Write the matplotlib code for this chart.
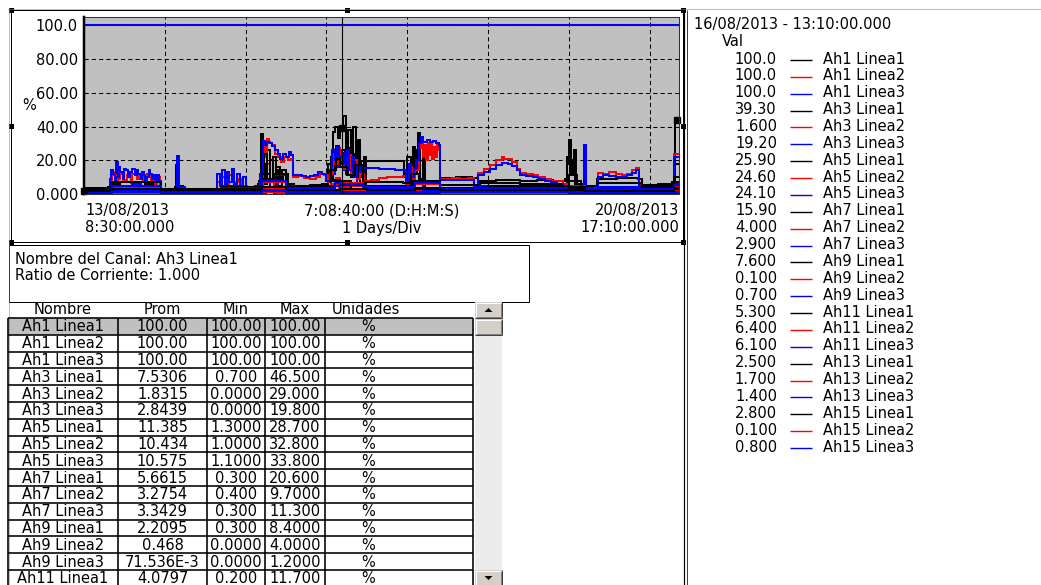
import matplotlib
matplotlib.use("Agg")
import matplotlib.pyplot as plt
from matplotlib.patches import Rectangle, Polygon

# ---------------------------------------------------------------- data
channels = [
    "Ah1 Linea1", "Ah1 Linea2", "Ah1 Linea3",
    "Ah3 Linea1", "Ah3 Linea2", "Ah3 Linea3",
    "Ah5 Linea1", "Ah5 Linea2", "Ah5 Linea3",
    "Ah7 Linea1", "Ah7 Linea2", "Ah7 Linea3",
    "Ah9 Linea1", "Ah9 Linea2", "Ah9 Linea3",
    "Ah11 Linea1", "Ah11 Linea2", "Ah11 Linea3",
    "Ah13 Linea1", "Ah13 Linea2", "Ah13 Linea3",
    "Ah15 Linea1", "Ah15 Linea2", "Ah15 Linea3",
]
cursor_values = [
    "100.0", "100.0", "100.0", "39.30", "1.600", "19.20",
    "25.90", "24.60", "24.10", "15.90", "4.000", "2.900",
    "7.600", "0.100", "0.700", "5.300", "6.400", "6.100",
    "2.500", "1.700", "1.400", "2.800", "0.100", "0.800",
]

table_names = channels[:16]
table_prom = ["100.00", "100.00", "100.00", "7.5306", "1.8315", "2.8439",
              "11.385", "10.434", "10.575", "5.6615", "3.2754", "3.3429",
              "2.2095", "0.468", "71.536E-3", "4.0797"]
table_min = ["100.00", "100.00", "100.00", "0.700", "0.0000", "0.0000",
             "1.3000", "1.0000", "1.1000", "0.300", "0.400", "0.300",
             "0.300", "0.0000", "0.0000", "0.200"]
table_max = ["100.00", "100.00", "100.00", "46.500", "29.000", "19.800",
             "28.700", "32.800", "33.800", "20.600", "9.7000", "11.300",
             "8.4000", "4.0000", "1.2000", "11.700"]
table_units = ["%"] * 16
table_headers = ["Nombre", "Prom", "Min", "Max", "Unidades"]

y_ticks = [0, 20, 40, 60, 80, 100]
y_tick_labels = ["0.000", "20.00", "40.00", "60.00", "80.00", "100.0"]

# time axis in days since 13/08/2013 8:30:00
span_days = 7 + 8 / 24 + 40 / 1440          # 7:08:40:00
cursor_day = 3 + 4 / 24 + 40 / 1440         # 16/08/2013 13:10:00

# series: sample days and values (%)
ah1_l1_days = [0.0, 7.36]
ah1_l1_vals = [100.0, 100.0]
ah1_l2_days = [0.0, 7.36]
ah1_l2_vals = [100.0, 100.0]
ah1_l3_days = [0.0, 7.36]
ah1_l3_vals = [100.0, 100.0]

ah3_l1_days = [0.00, 0.20, 0.40, 0.60, 0.80, 1.00, 1.12, 1.14, 1.16, 1.22, 1.40, 1.60,
               1.80, 2.00, 2.10, 2.17, 2.19, 2.21, 2.24, 2.27, 2.30, 2.34, 2.38, 2.45,
               2.50, 2.60, 2.80, 2.98, 3.02, 3.05, 3.08, 3.11, 3.14, 3.17, 3.21, 3.24,
               3.27, 3.30, 3.33, 3.36, 3.39, 3.42, 3.46, 3.49, 3.60, 3.80, 3.95, 4.03,
               4.07, 4.10, 4.13, 4.16, 4.19, 4.22, 4.40, 4.80, 5.20, 5.60, 5.85, 5.94,
               5.97, 6.00, 6.03, 6.06, 6.09, 6.14, 6.40, 6.80, 7.00, 7.10, 7.15, 7.27,
               7.31, 7.36]
ah3_l1_vals = [1.8, 1.2, 2.5, 1.8, 2.2, 2.5, 4.0, 17.0, 5.0, 2.0, 1.5, 2.5,
               1.8, 2.2, 3.0, 8.0, 35.5, 18.0, 6.0, 26.0, 9.0, 22.0, 5.0, 14.0,
               4.0, 2.5, 2.0, 3.0, 18.0, 8.0, 37.0, 40.0, 33.0, 39.3, 46.5, 12.0,
               38.0, 10.0, 40.0, 15.0, 32.0, 6.0, 22.0, 3.0, 1.5, 1.2, 2.0, 6.0,
               28.0, 14.0, 36.0, 9.0, 22.0, 3.0, 1.5, 1.2, 1.0, 0.8, 1.5, 4.0,
               18.0, 32.0, 12.0, 26.0, 6.0, 2.0, 1.5, 1.2, 2.0, 4.0, 2.0, 3.0,
               44.0, 44.0]

ah3_l2_days = [0.0, 0.3, 0.5, 0.7, 0.9, 1.1, 1.5, 1.9, 2.18, 2.21, 2.24, 2.27, 2.30,
               2.35, 2.6, 3.0, 3.1, 3.15, 3.25, 3.4, 3.8, 4.1, 4.3, 5.0, 6.0, 6.5,
               7.0, 7.3, 7.36]
ah3_l2_vals = [0.5, 1.5, 2.5, 1.0, 2.0, 0.8, 1.2, 0.5, 2.0, 22.0, 29.0, 18.0, 8.0,
               2.0, 1.0, 1.5, 5.0, 1.6, 3.0, 1.2, 0.8, 2.0, 1.0, 0.5, 1.0, 0.6,
               0.8, 2.0, 2.0]

ah3_l3_days = [0.0, 0.3, 0.38, 0.40, 0.42, 0.6, 0.9, 1.1, 1.6, 2.0, 2.2, 2.3, 2.4,
               3.0, 3.05, 3.10, 3.14, 3.17, 3.22, 3.30, 3.38, 3.45, 4.0, 4.1, 4.2,
               5.0, 6.0, 6.2, 7.0, 7.3, 7.36]
ah3_l3_vals = [0.5, 1.0, 3.0, 19.0, 4.0, 2.0, 3.0, 1.0, 1.5, 0.8, 4.0, 8.0, 3.0,
               2.0, 12.0, 19.8, 16.0, 19.2, 14.0, 18.0, 6.0, 2.0, 1.5, 6.0, 2.0,
               1.0, 1.5, 1.0, 0.8, 3.0, 3.0]

ah5_l1_days = [0.00, 0.30, 0.33, 0.45, 0.60, 0.75, 0.90, 0.95, 1.30, 1.60, 1.70, 1.85,
               2.05, 2.15, 2.20, 2.23, 2.26, 2.30, 2.34, 2.38, 2.42, 2.46, 2.52, 2.58,
               2.80, 2.95, 3.02, 3.06, 3.09, 3.12, 3.15, 3.19, 3.23, 3.27, 3.31, 3.35,
               3.39, 3.43, 3.60, 3.75, 3.90, 3.96, 4.00, 4.04, 4.08, 4.12, 4.16, 4.25,
               4.41, 4.60, 4.80, 4.88, 5.10, 5.40, 5.60, 5.80, 5.95, 5.98, 6.01, 6.04,
               6.08, 6.20, 6.35, 6.60, 6.85, 6.90, 7.10, 7.28, 7.31, 7.36]
ah5_l1_vals = [2.0, 2.5, 6.0, 7.0, 5.0, 6.0, 4.0, 2.5, 2.0, 3.0, 5.0, 4.0,
               3.0, 6.0, 15.0, 24.0, 12.0, 20.0, 9.0, 16.0, 7.0, 12.0, 6.0, 5.0,
               5.5, 6.0, 10.0, 22.0, 14.0, 28.7, 18.0, 25.9, 16.0, 27.0, 12.0, 24.0,
               10.0, 19.6, 19.8, 19.5, 19.7, 10.0, 22.0, 14.0, 26.0, 12.0, 8.0, 7.5,
               9.5, 9.8, 9.5, 8.0, 8.5, 8.0, 8.5, 7.5, 9.0, 22.0, 12.0, 20.0,
               6.0, 5.0, 9.0, 9.5, 9.0, 5.0, 6.0, 7.0, 18.0, 18.0]

ah5_l2_days = [0.00, 0.30, 0.33, 0.35, 0.37, 0.40, 0.42, 0.44, 0.46, 0.48, 0.50, 0.53,
               0.55, 0.58, 0.60, 0.63, 0.65, 0.68, 0.70, 0.73, 0.75, 0.78, 0.80, 0.83,
               0.85, 0.88, 0.90, 0.94, 1.10, 1.30, 1.60, 1.65, 1.70, 1.75, 1.80, 1.85,
               1.90, 1.95, 2.02, 2.15, 2.19, 2.22, 2.26, 2.29, 2.32, 2.36, 2.40, 2.44,
               2.48, 2.52, 2.56, 2.58, 2.65, 2.72, 2.80, 2.87, 2.92, 2.97, 3.02, 3.05,
               3.08, 3.11, 3.14, 3.17, 3.19, 3.22, 3.26, 3.30, 3.34, 3.38, 3.42, 3.46,
               3.55, 3.65, 3.75, 3.85, 3.95, 3.98, 4.02, 4.06, 4.10, 4.14, 4.17, 4.19,
               4.21, 4.23, 4.25, 4.27, 4.29, 4.31, 4.33, 4.35, 4.37, 4.39, 4.41, 4.55,
               4.65, 4.75, 4.82, 4.88, 4.95, 5.02, 5.10, 5.17, 5.20, 5.24, 5.30, 5.36,
               5.40, 5.47, 5.55, 5.62, 5.70, 5.78, 5.85, 5.92, 6.00, 6.10, 6.30, 6.36,
               6.42, 6.50, 6.58, 6.65, 6.72, 6.78, 6.83, 6.87, 6.95, 7.10, 7.25, 7.30,
               7.36]
ah5_l2_vals = [1.2, 1.5, 8.0, 13.0, 11.0, 7.0, 9.0, 12.5, 12.0, 8.0, 8.5, 11.0,
               10.0, 6.5, 12.0, 13.5, 9.0, 11.0, 10.0, 7.0, 8.0, 12.0, 11.0, 8.0,
               9.0, 6.0, 10.0, 2.0, 1.8, 1.5, 1.8, 7.0, 10.0, 6.0, 11.0, 7.0,
               9.0, 5.0, 2.5, 4.0, 10.0, 28.0, 32.8, 30.0, 29.0, 24.0, 22.0, 19.0,
               22.0, 20.0, 21.0, 10.0, 10.5, 9.5, 9.0, 10.0, 12.0, 11.0, 7.0, 12.0,
               24.0, 18.0, 27.0, 20.0, 24.6, 15.0, 23.0, 12.0, 20.0, 9.0, 12.0, 8.0,
               8.5, 9.2, 9.8, 10.3, 10.8, 6.0, 16.0, 9.0, 14.0, 27.0, 30.0, 22.0,
               29.0, 20.0, 30.0, 23.0, 31.0, 21.0, 28.0, 22.0, 29.0, 26.0, 9.0, 9.3,
               8.8, 9.2, 4.5, 12.5, 15.0, 17.0, 20.0, 22.0, 20.5, 21.0, 19.0, 15.0,
               12.5, 12.0, 11.0, 10.0, 9.0, 8.0, 7.5, 6.0, 5.0, 4.0, 3.5, 12.5,
               12.0, 13.0, 12.0, 11.5, 12.0, 14.0, 15.5, 5.5, 3.5, 3.0, 3.5, 24.0,
               24.0]

ah5_l3_days = [0.00, 0.30, 0.32, 0.34, 0.36, 0.38, 0.40, 0.43, 0.45, 0.48, 0.50, 0.52,
               0.55, 0.57, 0.60, 0.63, 0.65, 0.67, 0.70, 0.72, 0.74, 0.76, 0.78, 0.80,
               0.82, 0.84, 0.86, 0.88, 0.90, 0.93, 0.95, 1.05, 1.13, 1.15, 1.17,
               1.25, 1.40, 1.60, 1.64, 1.68, 1.71, 1.74, 1.77, 1.80, 1.83, 1.86, 1.89,
               1.93, 1.97, 2.00, 2.05, 2.12, 2.18, 2.21, 2.24, 2.27, 2.30, 2.33, 2.36,
               2.40, 2.43, 2.46, 2.50, 2.53, 2.56, 2.58, 2.65, 2.70, 2.75, 2.80, 2.85,
               2.90, 2.95, 3.00, 3.04, 3.07, 3.10, 3.13, 3.16, 3.19, 3.22, 3.25, 3.28,
               3.31, 3.34, 3.38, 3.42, 3.45, 3.55, 3.65, 3.75, 3.85, 3.95, 3.98, 4.02,
               4.05, 4.08, 4.11, 4.14, 4.17, 4.20, 4.24, 4.28, 4.32, 4.36, 4.39, 4.41,
               4.55, 4.65, 4.75, 4.82, 4.88, 4.95, 5.02, 5.10, 5.17, 5.24, 5.30, 5.36,
               5.40, 5.47, 5.55, 5.62, 5.70, 5.78, 5.85, 5.92, 6.00, 6.10, 6.17, 6.18,
               6.21, 6.30, 6.36, 6.42, 6.50, 6.58, 6.65, 6.72, 6.78, 6.83, 6.87, 6.95,
               7.10, 7.25, 7.30, 7.36]
ah5_l3_vals = [1.5, 1.8, 9.0, 14.0, 12.0, 8.0, 10.0, 16.0, 13.0, 9.0, 15.0, 14.0,
               10.0, 13.0, 15.0, 11.0, 14.0, 12.0, 9.0, 13.0, 11.0, 8.0, 10.0, 14.0,
               12.0, 9.0, 11.0, 7.0, 11.0, 8.0, 2.5, 2.0, 3.0, 22.6, 4.0,
               2.5, 1.5, 2.0, 12.0, 5.0, 14.0, 6.0, 13.0, 7.0, 15.0, 6.0, 12.0,
               5.0, 10.0, 4.0, 3.0, 5.0, 12.0, 31.5, 29.0, 31.0, 30.0, 28.5, 26.0,
               24.0, 21.0, 24.0, 22.0, 25.0, 23.0, 11.0, 11.5, 10.5, 10.0, 10.5, 11.0,
               13.0, 12.0, 8.0, 14.0, 26.0, 20.0, 28.0, 22.0, 24.1, 18.0, 26.0, 14.0,
               22.0, 10.0, 17.0, 13.0, 15.5, 15.2, 15.0, 14.8, 14.5, 14.0, 8.0, 18.0,
               10.0, 15.0, 20.0, 30.0, 33.8, 31.0, 32.0, 31.0, 31.5, 30.0, 29.0, 8.3,
               8.6, 8.2, 8.5, 4.0, 11.0, 13.0, 15.0, 17.0, 18.5, 18.0, 16.5, 14.0,
               11.0, 10.5, 10.0, 9.0, 8.0, 7.0, 6.0, 5.0, 4.0, 3.0, 3.5, 29.0,
               4.0, 3.0, 10.0, 11.0, 10.5, 10.0, 10.2, 11.0, 12.5, 14.5, 5.0, 3.0,
               2.5, 3.0, 22.0, 22.0]

ah7_l1_days = [0.0, 0.3, 0.35, 0.95, 1.5, 2.1, 2.2, 2.3, 2.4, 2.5, 2.6, 3.0, 3.05,
               3.12, 3.17, 3.25, 3.35, 3.45, 3.95, 4.05, 4.15, 4.4, 4.9, 5.4, 5.9,
               6.0, 6.1, 6.35, 6.9, 7.3, 7.36]
ah7_l1_vals = [3.5, 4.0, 7.0, 3.0, 3.2, 4.0, 12.0, 8.0, 14.0, 6.0, 4.5, 5.0, 14.0,
               20.6, 15.9, 11.0, 17.0, 7.0, 6.5, 12.0, 8.0, 5.5, 6.5, 6.0, 5.0,
               11.0, 4.5, 6.5, 5.5, 10.0, 10.0]

ah7_l2_days = [0.0, 0.35, 0.95, 1.7, 2.05, 2.2, 2.5, 2.6, 3.05, 3.12, 3.17, 3.3,
               3.45, 4.1, 4.4, 4.9, 5.4, 6.0, 6.2, 6.35, 6.9, 7.3, 7.36]
ah7_l2_vals = [2.0, 4.0, 2.5, 3.5, 2.5, 7.0, 4.0, 3.0, 6.0, 9.7, 4.0, 5.0,
               3.5, 6.0, 3.2, 4.0, 3.5, 5.0, 2.5, 4.0, 3.0, 5.0, 5.0]

ah7_l3_days = [0.0, 0.35, 0.6, 0.7, 0.95, 1.7, 1.9, 2.2, 2.35, 2.5, 2.6, 3.05, 3.17,
               3.3, 3.45, 4.1, 4.4, 4.9, 5.4, 6.0, 6.2, 6.35, 6.9, 7.3, 7.36]
ah7_l3_vals = [2.0, 3.5, 6.0, 3.5, 2.0, 4.5, 3.0, 8.0, 11.3, 5.0, 3.0, 5.0, 2.9,
               6.0, 3.0, 7.0, 3.5, 4.5, 3.8, 4.0, 2.5, 4.2, 3.0, 6.0, 6.0]

ah9_l1_days = [0.0, 0.4, 0.95, 1.6, 2.2, 2.5, 3.1, 3.17, 3.3, 3.5, 4.1, 4.4, 5.5,
               6.0, 6.2, 7.0, 7.3, 7.36]
ah9_l1_vals = [1.0, 2.0, 1.2, 1.8, 4.0, 2.0, 8.4, 7.6, 3.0, 1.5, 3.0, 1.8, 2.0,
               4.0, 1.5, 1.2, 3.0, 3.0]

ah9_l2_days = [0.0, 0.5, 1.0, 2.2, 2.35, 3.17, 4.2, 4.4, 6.0, 7.36]
ah9_l2_vals = [0.3, 0.6, 0.2, 4.0, 0.5, 0.1, 1.0, 0.4, 0.6, 0.4]

ah9_l3_days = [0.0, 2.25, 2.35, 3.17, 3.3, 7.36]
ah9_l3_vals = [0.0, 1.2, 0.1, 0.7, 0.0, 0.0]

ah11_l1_days = [0.0, 0.35, 0.95, 1.7, 2.2, 2.35, 2.5, 3.1, 3.17, 3.45, 4.1, 4.4,
                5.0, 5.9, 6.0, 6.15, 6.9, 7.3, 7.36]
ah11_l1_vals = [2.5, 5.0, 3.0, 4.0, 9.0, 11.7, 4.0, 7.0, 5.3, 4.5, 8.0, 3.8,
                4.5, 3.5, 8.0, 3.0, 4.0, 7.0, 7.0]

ah11_l2_days = [0.0, 0.35, 0.95, 1.7, 2.2, 2.5, 3.1, 3.17, 3.45, 4.1, 4.4, 5.0,
                6.0, 6.9, 7.3, 7.36]
ah11_l2_vals = [1.5, 4.0, 2.0, 3.0, 7.0, 3.0, 6.0, 6.4, 4.0, 6.0, 3.0, 3.5,
                2.5, 2.5, 5.0, 5.0]

ah11_l3_days = [0.0, 0.35, 0.95, 1.7, 2.2, 2.5, 3.1, 3.17, 3.45, 4.1, 4.4, 5.0,
                6.0, 6.9, 7.3, 7.36]
ah11_l3_vals = [1.8, 4.5, 2.2, 3.5, 8.0, 3.5, 6.5, 6.1, 4.2, 6.5, 3.2, 3.8,
                2.8, 2.8, 5.5, 5.5]

ah13_l1_days = [0.0, 0.35, 0.95, 2.2, 2.5, 3.17, 3.5, 4.1, 4.4, 6.0, 6.2, 7.3, 7.36]
ah13_l1_vals = [1.5, 2.5, 1.8, 3.5, 2.0, 2.5, 1.8, 3.0, 2.0, 2.5, 1.5, 3.0, 3.0]
ah13_l2_days = [0.0, 0.35, 0.95, 2.2, 2.5, 3.17, 3.5, 4.4, 6.0, 7.36]
ah13_l2_vals = [1.0, 1.8, 1.2, 2.8, 1.5, 1.7, 1.2, 1.6, 1.3, 1.5]
ah13_l3_days = [0.0, 0.35, 0.95, 2.2, 2.5, 3.17, 3.5, 4.4, 6.0, 7.36]
ah13_l3_vals = [0.8, 1.5, 1.0, 2.4, 1.2, 1.4, 1.0, 1.3, 1.1, 1.2]

ah15_l1_days = [0.0, 0.35, 0.95, 1.7, 2.2, 2.5, 3.17, 3.5, 4.1, 4.4, 5.5, 6.0, 6.2,
                7.3, 7.36]
ah15_l1_vals = [2.0, 3.0, 2.2, 2.8, 4.0, 2.5, 2.8, 2.2, 3.5, 2.4, 2.6, 3.5, 2.0,
                3.5, 3.5]
ah15_l2_days = [0.0, 1.0, 2.2, 2.4, 3.17, 4.1, 4.3, 7.36]
ah15_l2_vals = [0.1, 0.2, 1.0, 0.2, 0.1, 0.6, 0.1, 0.1]
ah15_l3_days = [0.0, 0.35, 0.95, 2.2, 2.5, 3.17, 3.5, 4.4, 6.0, 7.36]
ah15_l3_vals = [0.5, 1.0, 0.6, 1.5, 0.8, 0.8, 0.6, 0.9, 0.7, 0.8]

series = [
    (ah1_l1_days, ah1_l1_vals), (ah1_l2_days, ah1_l2_vals), (ah1_l3_days, ah1_l3_vals),
    (ah3_l1_days, ah3_l1_vals), (ah3_l2_days, ah3_l2_vals), (ah3_l3_days, ah3_l3_vals),
    (ah5_l1_days, ah5_l1_vals), (ah5_l2_days, ah5_l2_vals), (ah5_l3_days, ah5_l3_vals),
    (ah7_l1_days, ah7_l1_vals), (ah7_l2_days, ah7_l2_vals), (ah7_l3_days, ah7_l3_vals),
    (ah9_l1_days, ah9_l1_vals), (ah9_l2_days, ah9_l2_vals), (ah9_l3_days, ah9_l3_vals),
    (ah11_l1_days, ah11_l1_vals), (ah11_l2_days, ah11_l2_vals), (ah11_l3_days, ah11_l3_vals),
    (ah13_l1_days, ah13_l1_vals), (ah13_l2_days, ah13_l2_vals), (ah13_l3_days, ah13_l3_vals),
    (ah15_l1_days, ah15_l1_vals), (ah15_l2_days, ah15_l2_vals), (ah15_l3_days, ah15_l3_vals),
]
phase_colors = ["#000000", "#ff0000", "#0000ff"]
selected = 3   # Ah3 Linea1

# ---------------------------------------------------------------- figure
W, H = 1041, 585
FS = 10.5
plt.rcParams["font.family"] = ["DejaVu Sans"]
fig = plt.figure(figsize=(W / 100, H / 100), dpi=100)
fig.patch.set_facecolor("white")

# pixel-space canvas for the window furniture
ui = fig.add_axes([0, 0, 1, 1])
ui.set_xlim(0, W)
ui.set_ylim(H, 0)
ui.axis("off")

PX = 0.72  # one pixel in points


def hline(x0, x1, y, color="black", lw=1.0, ls="-"):
    ui.plot([x0, x1], [y, y], color=color, lw=lw * PX, ls=ls, solid_capstyle="butt")


def vline(x, y0, y1, color="black", lw=1.0, ls="-"):
    ui.plot([x, x], [y0, y1], color=color, lw=lw * PX, ls=ls, solid_capstyle="butt")


def text(x, y, s, ha="left", **kw):
    ui.text(x, y, s, ha=ha, va="center", fontsize=FS, color="black", **kw)


# dotted window edges
hline(8, W, 8.5, color="#808080", ls=(0, (1, 1)))
vline(8.5, 8, H, color="#808080", ls=(0, (1, 1)))

# chart panel frame with selection handles
ui.add_patch(Rectangle((11, 10), 672, 232, fill=False, ec="black", lw=PX))
for hx, hy in [(11, 10), (347, 10), (683, 10), (11, 126), (683, 126),
               (11, 242), (347, 242), (683, 242)]:
    ui.add_patch(Rectangle((hx - 2.5, hy - 2.5), 5, 5, fc="black", ec="none"))
vline(683.5, 10, H, lw=1.2)
vline(686.5, 10, H, color="#404040", lw=1.0)

# ---------------------------------------------------------------- trend plot
ax = fig.add_axes([84 / W, 1 - 194 / H, 595 / W, 177 / H])
ax.set_facecolor("#c0c0c0")
ax.set_xlim(0, span_days)
ax.set_ylim(0, 105)
ax.set_axisbelow(True)
ax.set_xticks(range(1, 8))
ax.set_xticklabels([])
ax.set_yticks(y_ticks)
ax.set_yticklabels(y_tick_labels)
ax.tick_params(axis="both", length=0)
ax.tick_params(axis="y", pad=4.3, labelsize=FS)
ax.grid(True, color="black", lw=0.75, ls=(0, (4, 3)))
for side in ["top", "right", "bottom"]:
    ax.spines[side].set_color("#303030")
    ax.spines[side].set_linewidth(PX)
ax.spines["left"].set_linewidth(2.5 * PX)

for i, (days, vals) in enumerate(series):
    ax.plot(days, vals, color=phase_colors[i % 3], lw=1.45,
            drawstyle="steps-post", solid_joinstyle="miter")

ax.axvline(cursor_day, color="black", lw=0.8)

sel_days, sel_vals = series[selected]
ax.plot([sel_days[0], cursor_day, sel_days[-1] - 0.02],
        [sel_vals[0], float(cursor_values[selected]), sel_vals[-1]],
        ls="none", marker="s", ms=4.5, color="black", clip_on=False)

text(22, 106, "%")
text(85, 211, "13/08/2013")
text(85, 228, "8:30:00.000")
text(382, 211, "7:08:40:00 (D:H:M:S)", ha="center")
text(382, 228, "1 Days/Div", ha="center")
text(679, 211, "20/08/2013", ha="right")
text(679, 228, "17:10:00.000", ha="right")

# ---------------------------------------------------------------- cursor legend
text(694, 25, "16/08/2013 - 13:10:00.000")
text(722, 42, "Val")
for i, (name, val) in enumerate(zip(channels, cursor_values)):
    y = 59 + 16.87 * i
    text(777, y, val, ha="right")
    hline(790, 812, round(y) + 0.5, color=phase_colors[i % 3], lw=1.4)
    text(823, y, name)

# ---------------------------------------------------------------- channel info box
ui.add_patch(Rectangle((9, 245), 520, 57, fill=False, ec="black", lw=PX))
text(15, 259, "Nombre del Canal: " + channels[selected])
text(15, 276, "Ratio de Corriente: 1.000")

# ---------------------------------------------------------------- statistics table
col_edges = [8, 118, 207, 265, 325, 473]
header_y = 310
row0, row_h = 318, 16.8
for j, hdr in enumerate(table_headers):
    cx = (col_edges[j] + col_edges[j + 1]) / 2
    if j == 4:
        cx = 366
    text(cx, header_y, hdr, ha="center")

ui.add_patch(Rectangle((col_edges[0], row0), col_edges[-1] - col_edges[0], row_h,
                       fc="#c0c0c0", ec="none"))
columns = [table_names, table_prom, table_min, table_max, table_units]
for r in range(len(table_names)):
    yc = row0 + row_h * r + row_h / 2 + 0.5
    for j, col in enumerate(columns):
        cx = (col_edges[j] + col_edges[j + 1]) / 2
        if j == 4:
            cx = 368
        text(cx, yc, col[r], ha="center")
for r in range(len(table_names) + 1):
    hline(col_edges[0], col_edges[-1], row0 + row_h * r, lw=1.6)
for x in col_edges:
    vline(x, row0, H, lw=1.6)

# scrollbar
sb_x0, sb_x1 = 475, 502
ui.add_patch(Rectangle((sb_x0, 335), sb_x1 - sb_x0, 235, fc="#ececec", ec="none"))


def button(y0, y1):
    ui.add_patch(Rectangle((sb_x0, y0), sb_x1 - sb_x0, y1 - y0, fc="#d4d0c8", ec="none"))
    hline(sb_x0, sb_x1, y0 + 0.5, color="white")
    vline(sb_x0 + 0.5, y0, y1, color="white")
    hline(sb_x0, sb_x1, y1 - 0.5, color="#404040")
    vline(sb_x1 - 0.5, y0, y1, color="#404040")
    hline(sb_x0 + 1, sb_x1 - 1, y1 - 1.5, color="#808080")
    vline(sb_x1 - 1.5, y0 + 1, y1 - 1, color="#808080")


button(302, 318)
button(319, 335)
button(570, 586)
cxb = (sb_x0 + sb_x1) / 2
ui.add_patch(Polygon([(cxb - 4, 312), (cxb + 4, 312), (cxb, 308)], closed=True,
                     fc="black", ec="none"))
ui.add_patch(Polygon([(cxb - 4, 576), (cxb + 4, 576), (cxb, 580)], closed=True,
                     fc="black", ec="none"))

fig.savefig("out.png", dpi=100, facecolor="white")
